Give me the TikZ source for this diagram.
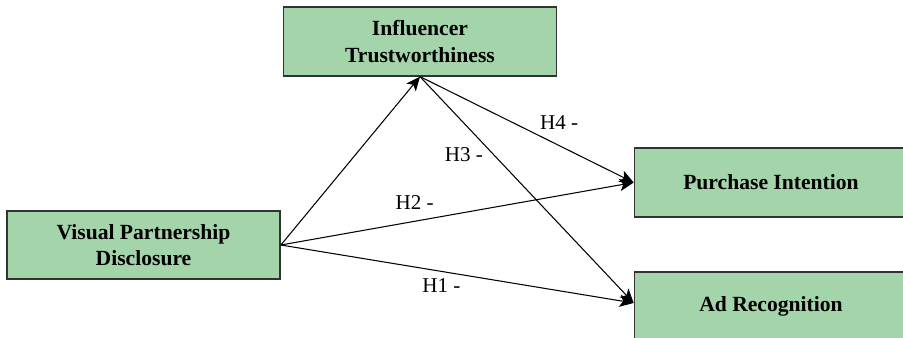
\documentclass[tikz,border=0pt]{standalone}
\usepackage{fontspec}
\setmainfont{Liberation Serif}
\usepackage{xcolor}
\usetikzlibrary{arrows.meta, math}
\definecolor{qgreen}{RGB}{164,212,170}
\definecolor{qgray}{RGB}{50,50,50}

\tikzset{
  varbox/.style={draw=qgray, line width=1pt, fill=qgreen, align=center,
    minimum width=5.46cm, minimum height=1.37cm, inner sep=0pt,
    font=\fontsize{12.3}{15}\selectfont\bfseries},
  hyp/.style={draw=black, line width=0.6pt, -{Stealth[length=8pt,width=7pt,inset=2pt]}},
  hlabel/.style={inner sep=1pt, font=\fontsize{12}{14}\selectfont}
}

\begin{document}
\begin{tikzpicture}[x=0.02cm,y=-0.02cm]
\useasboundingbox (0,0) rectangle (903,338);
\clip (0,0) rectangle (903,338);

%boxes
\node[varbox] (trust) at (420,41.5) {Influencer\\Trustworthiness};
\node[varbox] (vpd) at (143.5,245) {Visual Partnership\\Disclosure};
\node[varbox] (purch) at (771,182.5) {Purchase Intention};
\node[varbox] (adrec) at (771,306) {Ad Recognition};
\coordinate (adin) at ([yshift=0.06cm]adrec.west);

%hypotheses
\draw[hyp] (vpd.east) -- (trust.south);
\draw[hyp] (trust.south) -- (purch.west) node[hlabel, pos=0.651, above=8pt] {H4 -};
\draw[hyp] (trust.south) -- (adin) node[hlabel, pos=0.346, left=5pt] {H3 -};
\draw[hyp] (vpd.east) -- (purch.west) node[hlabel, pos=0.379, above=5.5pt] {H2 -};
\draw[hyp] (vpd.east) -- (adin) node[hlabel, pos=0.455, below=3pt] {H1 -};

\end{tikzpicture}
\end{document}
